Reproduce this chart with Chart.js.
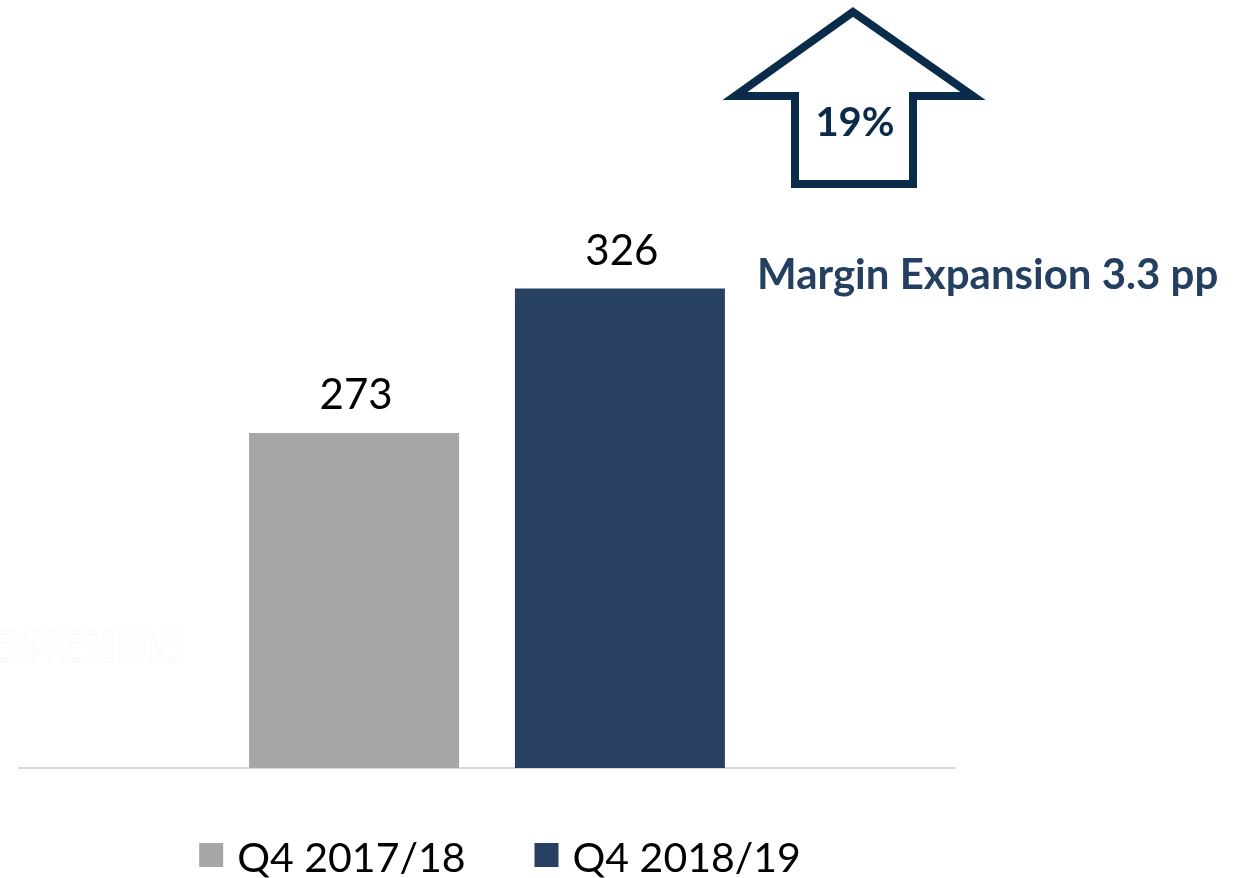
<!DOCTYPE html>
<html>
<head>
<meta charset="utf-8">
<script src="https://cdn.jsdelivr.net/npm/chart.js@4"></script>
<style>
html,body{margin:0;padding:0;background:#fff;}
#wrap{position:relative;width:1244px;height:878px;}
</style>
</head>
<body>
<div id="wrap"><canvas id="c" width="1244" height="878"></canvas></div>
<script>
const categories = [''];
const seriesNames = ['Q4 2017/18', 'Q4 2018/19'];
const seriesValues = [[273], [326]];
const seriesColors = ['#a6a6a6', '#284062'];
const growthLabel = '19%';
const marginLabel = 'Margin Expansion 3.3 pp';
const watermark = 'EXPRESSIONS';

const FONT = 'Lato, "Open Sans", sans-serif';

const decor = {
  id: 'decor',
  beforeDraw(chart) {
    const ctx = chart.ctx;
    ctx.save();
    ctx.fillStyle = '#ffffff';
    ctx.fillRect(0, 0, chart.width, chart.height);
    // faint watermark
    ctx.translate(-6, 662);
    ctx.scale(0.72, 1);
    ctx.font = '300 42px "DejaVu Sans Condensed", sans-serif';
    ctx.strokeStyle = 'rgba(0,0,0,0.035)';
    ctx.lineWidth = 1;
    ctx.textBaseline = 'alphabetic';
    ctx.textAlign = 'left';
    ctx.strokeText(watermark, 0, 0);
    ctx.restore();
  },
  afterDatasetsDraw(chart) {
    const ctx = chart.ctx;
    ctx.save();
    // value labels
    ctx.font = '42px ' + FONT;
    ctx.fillStyle = '#000';
    ctx.textAlign = 'center';
    ctx.textBaseline = 'alphabetic';
    chart.data.datasets.forEach((ds, i) => {
      const meta = chart.getDatasetMeta(i);
      meta.data.forEach((el, j) => {
        ctx.fillText(String(ds.data[j]), el.x + 2, el.y - 24);
      });
    });
    // legend (built from datasets)
    ctx.font = '41px ' + FONT;
    ctx.textAlign = 'left';
    const box = 24, gapText = 14, gapItem = 69;
    const widths = chart.data.datasets.map(ds => box + gapText + ctx.measureText(ds.label).width);
    const total = widths.reduce((a, b) => a + b, 0) + gapItem * (widths.length - 1);
    let x = 500 - total / 2;
    chart.data.datasets.forEach((ds, i) => {
      ctx.fillStyle = ds.backgroundColor;
      ctx.fillRect(x, 843, box, box);
      ctx.fillStyle = '#000';
      ctx.fillText(ds.label, x + box + gapText, 872);
      x += widths[i] + gapItem;
    });
    // margin text
    ctx.font = 'bold 42px ' + FONT;
    ctx.fillStyle = '#243f60';
    ctx.fillText(marginLabel, 757, 289);
    // arrow
    ctx.strokeStyle = '#0b2b4b';
    ctx.lineWidth = 8;
    ctx.lineJoin = 'miter';
    ctx.beginPath();
    ctx.moveTo(853, 12);
    ctx.lineTo(973, 96);
    ctx.lineTo(913, 96);
    ctx.lineTo(913, 184);
    ctx.lineTo(795, 184);
    ctx.lineTo(795, 96);
    ctx.lineTo(735, 96);
    ctx.closePath();
    ctx.stroke();
    ctx.font = 'bold 40px ' + FONT;
    ctx.fillStyle = '#0b2b4b';
    ctx.textAlign = 'center';
    ctx.fillText(growthLabel, 855, 136);
    ctx.restore();
  }
};

new Chart(document.getElementById('c'), {
  type: 'bar',
  data: {
    labels: categories,
    datasets: seriesNames.map((n, i) => ({
      label: n,
      data: seriesValues[i],
      backgroundColor: seriesColors[i],
      borderWidth: 0
    }))
  },
  options: {
    responsive: false,
    animation: false,
    devicePixelRatio: 1,
    categoryPercentage: 0.568,
    barPercentage: 0.79,
    layout: { padding: { left: 19, right: 289, top: 196, bottom: 110 } },
    scales: {
      x: {
        grid: { display: false, drawTicks: false },
        ticks: { display: false },
        border: { display: true, color: '#d9d9d9', width: 2 },
        afterFit: (s) => { s.height = 0; }
      },
      y: {
        display: false,
        min: 150,
        max: 360
      }
    },
    plugins: {
      legend: { display: false },
      tooltip: { enabled: false }
    }
  },
  plugins: [decor]
});
</script>
</body>
</html>
